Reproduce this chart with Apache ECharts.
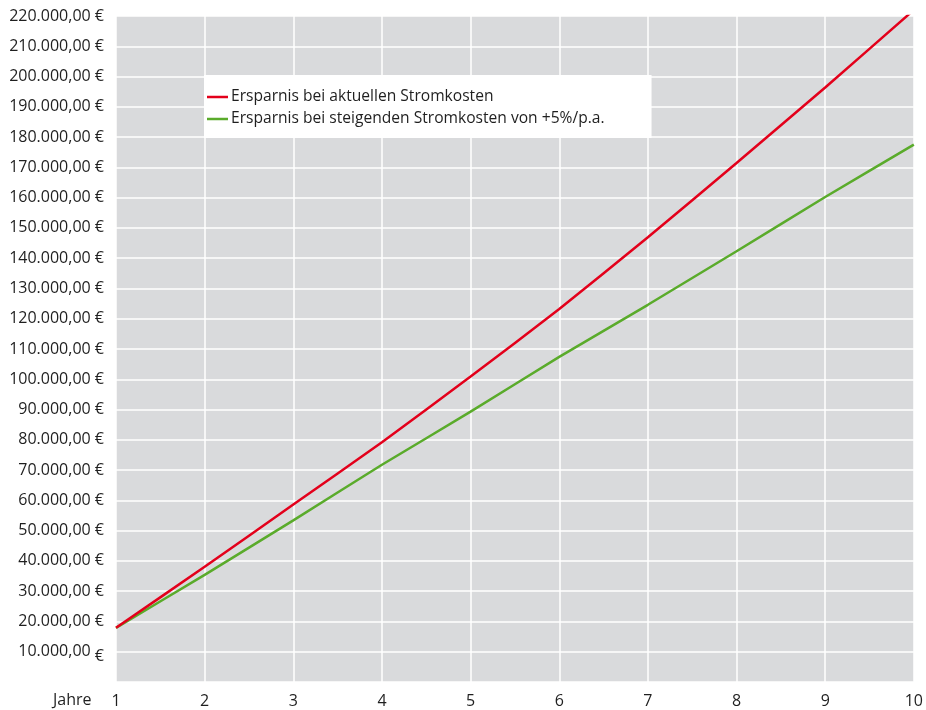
<!DOCTYPE html>
<html>
<head>
<meta charset="utf-8">
<script src="https://cdn.jsdelivr.net/npm/echarts@6/dist/echarts.min.js"></script>
<style>
  html, body { margin: 0; padding: 0; background: #ffffff; overflow: hidden; }
  #chart { width: 926px; height: 710px; }
</style>
</head>
<body>
<div id="chart"></div>
<script>
// Jahre 1–10
const years = ['1', '2', '3', '4', '5', '6', '7', '8', '9', '10'];

// Kumulierte Ersparnis in Euro
const savingsCurrent = [17900, 38050, 58650, 79200, 100900, 123200, 146900, 171450, 196400, 222000];
const savingsRising  = [17900, 35400, 53400, 71750, 89300, 107400, 124600, 142300, 160200, 177500];

const seriesNames = [
  'Ersparnis bei aktuellen Stromkosten',
  'Ersparnis bei steigenden Stromkosten von +5%/p.a.'
];

const FONT = '"Open Sans", "Noto Sans", sans-serif';
const TEXT = '#1f1f1f';
const RED = '#e3001b';
const GREEN = '#5aab2b';

function euro(v) {
  const s = String(Math.round(v)).replace(/\B(?=(\d{3})+(?!\d))/g, '.');
  return s + ',00';
}

const chart = echarts.init(document.getElementById('chart'), null, { renderer: 'canvas', width: 926, height: 710 });

chart.setOption({
  animation: false,
  backgroundColor: '#ffffff',
  textStyle: { fontFamily: FONT },
  grid: {
    left: 116, right: 8, top: 16, bottom: 28,
    show: true,
    backgroundColor: '#d9dadc',
    borderWidth: 0
  },
  legend: {
    orient: 'vertical',
    left: 204,
    top: 75,
    backgroundColor: '#ffffff',
    padding: [13, 47, 10, 3],
    icon: 'rect',
    itemWidth: 21,
    itemHeight: 2.5,
    itemGap: 4,
    textStyle: { fontFamily: FONT, fontSize: 15.6, lineHeight: 18, color: TEXT, padding: [0, 0, 0, -2] },
    data: [
      { name: seriesNames[0], itemStyle: { color: RED } },
      { name: seriesNames[1], itemStyle: { color: GREEN } }
    ]
  },
  xAxis: {
    type: 'category',
    data: years,
    boundaryGap: false,
    axisLine: { show: false },
    axisTick: { show: false },
    axisLabel: { color: TEXT, fontSize: 16, fontFamily: FONT, margin: 11 },
    splitLine: { show: true, lineStyle: { color: '#ffffff', width: 1.5 } }
  },
  yAxis: {
    type: 'value',
    min: 0,
    max: 220000,
    interval: 10000,
    axisLine: { show: false },
    axisTick: { show: false },
    splitLine: { show: true, lineStyle: { color: '#ffffff', width: 1.5 } },
    axisLabel: {
      color: TEXT,
      fontSize: 16,
      fontFamily: FONT,
      margin: 12,
      formatter: function (v) {
        if (v === 0) return '';
        if (v === 10000) return euro(v) + ' {low|€}';
        return euro(v) + ' €';
      },
      rich: {
        low: { fontSize: 16, fontFamily: FONT, color: TEXT, padding: [10, 0, 0, 0] }
      }
    }
  },
  series: [
    {
      name: seriesNames[0],
      type: 'line',
      data: savingsCurrent,
      symbol: 'none',
      smooth: 0.15,
      clip: true,
      lineStyle: { color: RED, width: 2.5 },
      itemStyle: { color: RED },
      z: 3
    },
    {
      name: seriesNames[1],
      type: 'line',
      data: savingsRising,
      symbol: 'none',
      smooth: 0.15,
      clip: true,
      lineStyle: { color: GREEN, width: 2.5 },
      itemStyle: { color: GREEN },
      z: 2
    }
  ],
  graphic: [
    {
      type: 'text',
      left: 53,
      top: 692,
      style: { text: 'Jahre', fontFamily: FONT, fontSize: 16, fill: TEXT }
    }
  ]
});
</script>
</body>
</html>
